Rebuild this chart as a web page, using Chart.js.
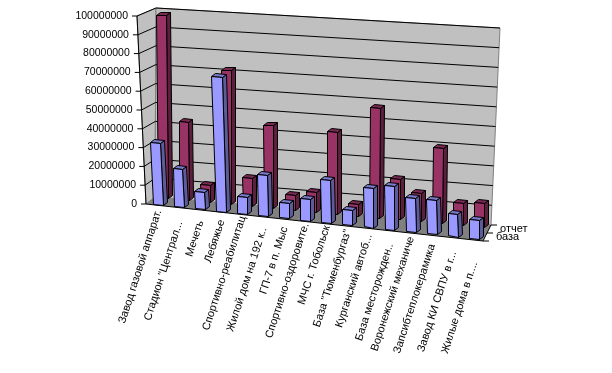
<!DOCTYPE html>
<html>
<head>
    <title>3D bars</title>
    <meta charset="UTF-8">
    <style>
        body { margin: 0; background: #fff; }
        canvas { display: block; }
    </style>
</head>
<body>
<canvas id="chart3d" width="612" height="373"></canvas>

<script src="https://cdn.jsdelivr.net/npm/chart.js"></script>
<script>
    const categories = [
        'Завод газовой аппарат.', 'Стадион "Централ...', 'Мечеть', 'Лебяжье',
        'Спортивно-реабилитац', 'Жилой дом на 192 к..', 'ГП-7 в п. Мыс', 'Спортивно-оздоровите.',
        'МЧС г. Тобольск', 'База "Тюменбургаз"', 'Курганский автоб...', 'База месторожден..',
        'Воронежский механиче', 'Запсибтеплокерамика', 'Завод КИ СВПУ в г...', 'Жилые дома в п....'
    ];
    const baza = [33000000, 20000000, 9000000, 71000000, 9000000, 21500000, 8000000, 11500000,
        22500000, 8000000, 20500000, 22500000, 17500000, 17500000, 11500000, 9500000];
    const otchet = [96500000, 41000000, 8600000, 70000000, 14500000, 43000000, 7500000, 10000000,
        42500000, 6000000, 56500000, 21000000, 14500000, 38500000, 11500000, 12500000];
    const seriesNames = ['база', 'отчет'];

    // how far the end of each rotated label sits below the floor edge
    const labelGap = [5, 14, 11, 8, 2, 11, 8, 2, 2, 4, 6, 13, 4, 9, 14, 22];

    // corners of the box on the screen: f = front, b = back, l/r = left/right, 0/1 = floor/top
    const box = {
        fl0: [146, 204], fr0: [483, 241], fl1: [137, 16], fr1: [481, 46],
        bl0: [155, 197], br0: [491, 225], bl1: [156, 8], br1: [500, 28]
    };

    function project(u, v, h) {
        const out = [];
        for (let k = 0; k < 2; k++) {
            const f0 = box.fl0[k] + (box.fr0[k] - box.fl0[k]) * u;
            const f1 = box.fl1[k] + (box.fr1[k] - box.fl1[k]) * u;
            const b0 = box.bl0[k] + (box.br0[k] - box.bl0[k]) * u;
            const b1 = box.bl1[k] + (box.br1[k] - box.bl1[k]) * u;
            const f = f0 + (f1 - f0) * h;
            const b = b0 + (b1 - b0) * h;
            out.push(f + (b - f) * v);
        }
        return out;
    }

    function poly(ctx, pts, fill, stroke) {
        ctx.beginPath();
        ctx.moveTo(pts[0][0], pts[0][1]);
        for (let i = 1; i < pts.length; i++) ctx.lineTo(pts[i][0], pts[i][1]);
        ctx.closePath();
        if (fill) { ctx.fillStyle = fill; ctx.fill(); }
        if (stroke) { ctx.strokeStyle = stroke; ctx.lineWidth = 1; ctx.stroke(); }
    }

    function line(ctx, a, b, color) {
        ctx.beginPath();
        ctx.moveTo(a[0], a[1]);
        ctx.lineTo(b[0], b[1]);
        ctx.strokeStyle = color;
        ctx.lineWidth = 1;
        ctx.stroke();
    }

    const box3d = {
        id: 'box3d',
        beforeDatasetsDraw(chart) {
            const ctx = chart.ctx;
            const area = chart.chartArea;
            const yScale = chart.scales.y;
            const xScale = chart.scales.x;
            ctx.save();

            // walls and floor
            poly(ctx, [project(0,0,0), project(0,0,1), project(0,1,1), project(0,1,0)], '#c0c0c0', '#808080');
            poly(ctx, [project(0,1,0), project(0,1,1), project(1,1,1), project(1,1,0)], '#c0c0c0', '#808080');
            poly(ctx, [project(0,0,0), project(0,1,0), project(1,1,0), project(1,0,0)], '#808080', null);

            // gridlines, ticks and value labels from the y scale
            ctx.font = '10.5px "Liberation Sans"';
            ctx.textAlign = 'right';
            ctx.textBaseline = 'middle';
            yScale.ticks.forEach(function (t, i) {
                const h = (area.bottom - yScale.getPixelForTick(i)) / area.height;
                const a = project(0, 0, h);
                const b = project(0, 1, h);
                const c = project(1, 1, h);
                if (i > 0) {
                    line(ctx, a, b, '#000');
                    line(ctx, b, c, '#000');
                }
                line(ctx, [a[0] - 5, a[1]], a, '#000');
                ctx.fillStyle = '#000';
                ctx.fillText(t.label, a[0] - 9, a[1]);
            });

            // axis lines
            line(ctx, project(0,0,0), project(0,0,1), '#000');
            line(ctx, project(0,0,0), project(1,0,0), '#000');
            line(ctx, project(1,0,0), project(1,1,0), '#000');

            // category labels
            ctx.font = '11px "Liberation Sans"';
            xScale.ticks.forEach(function (t, i) {
                const u = (xScale.getPixelForTick(i) - area.left) / area.width;
                const p = project(u, 0, 0);
                ctx.save();
                ctx.translate(p[0] + 2, p[1] + labelGap[i]);
                ctx.rotate(-72 * Math.PI / 180);
                ctx.fillStyle = '#000';
                ctx.fillText(categories[i], 0, 0);
                ctx.restore();
            });

            // depth axis with the series names
            [0, 0.5, 1].forEach(function (v) {
                const p = project(1, v, 0);
                line(ctx, p, [p[0] + 6, p[1]], '#000');
            });
            ctx.textAlign = 'left';
            ctx.fillStyle = '#000';
            chart.data.datasets.forEach(function (ds, i) {
                const p = project(1, 0.25 + i * 0.5, 0);
                ctx.fillText(ds.label, p[0] + 11, p[1]);
            });
            ctx.restore();
        },
        beforeDatasetDraw(chart, args) {
            const ctx = chart.ctx;
            const area = chart.chartArea;
            const ds = chart.data.datasets[args.index];
            const nudge = ds.rowShift;
            ctx.save();
            args.meta.data.forEach(function (bar) {
                const u0 = (bar.x - bar.width / 2 - area.left) / area.width;
                const u1 = (bar.x + bar.width / 2 - area.left) / area.width;
                const h = (area.bottom - bar.y) / area.height;
                const shift = function (p) {
                    return [Math.round(p[0] + nudge[0]) + 0.5, Math.round(p[1] + nudge[1]) + 0.5];
                };
                const a = shift(project(u0, ds.row, 0));
                const b = shift(project(u1, ds.row, 0));
                const c = shift(project(u1, ds.row, h));
                const d = shift(project(u0, ds.row, h));
                const off = function (p) { return [p[0] + 4, p[1] - 3]; };
                poly(ctx, [b, off(b), off(c), c], ds.sideColor, '#000');
                poly(ctx, [d, c, off(c), off(d)], ds.topColor, '#000');
                poly(ctx, [a, b, c, d], ds.backgroundColor, '#000');
            });
            ctx.restore();
            return false;
        }
    };

    new Chart(document.getElementById('chart3d'), {
        type: 'bar',
        data: {
            labels: categories,
            datasets: [
                { label: seriesNames[0], data: baza, backgroundColor: '#9999ff', sideColor: '#5c5c99', topColor: '#7a7acc', row: 0.1, rowShift: [0.5, 0] },
                { label: seriesNames[1], data: otchet, backgroundColor: '#993366', sideColor: '#5c1f3d', topColor: '#7a2952', row: 0.6, rowShift: [1.5, -3.5] }
            ]
        },
        options: {
            responsive: false,
            animation: false,
            layout: { padding: { top: 16, bottom: 169, right: 129 } },
            plugins: { legend: { display: false }, tooltip: { enabled: false } },
            datasets: { bar: { grouped: false, categoryPercentage: 1, barPercentage: 0.47 } },
            scales: {
                x: { display: true, grid: { display: false }, border: { display: false }, ticks: { display: false }, afterFit(s) { s.height = 0; } },
                y: {
                    min: 0, max: 100000000,
                    grid: { display: false }, border: { display: false },
                    ticks: { stepSize: 10000000, display: false, callback: function (v) { return String(v); } },
                    afterFit(s) { s.width = 146; }
                }
            }
        },
        plugins: [box3d]
    });
</script>
</body>
</html>
